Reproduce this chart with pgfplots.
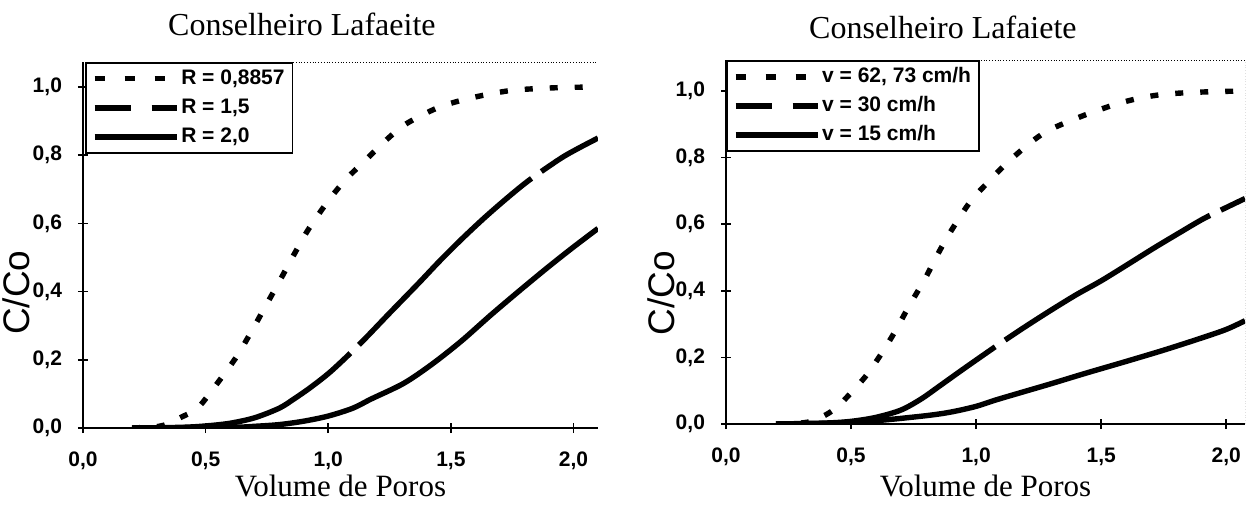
\documentclass[border=0pt]{standalone}
\usepackage{fontspec}
\setmainfont{Liberation Serif}
\setsansfont{Liberation Sans}
\usepackage{pgfplots}
\pgfplotsset{compat=1.18}

\pgfplotsset{
  base/.style={
    scale only axis,
    xmin=0, ymin=0,
    axis lines=left,
    axis line style={-, line width=1pt, black},
    xtick={0,0.5,1,1.5,2},
    ytick={0,0.2,0.4,0.6,0.8,1},
    tick align=center, major tick length=5pt,
    tick style={black, line width=0.8pt},
    /pgf/number format/.cd, use comma, fixed, fixed zerofill, precision=1, assume math mode=true,
    /pgfplots/.cd,
    ticklabel style={font=\sffamily\bfseries\fontsize{10.5}{12}\selectfont},
    xticklabel style={yshift=-6pt},
    yticklabel style={xshift=-4.5pt},
    title style={anchor=base, font=\fontsize{16}{19}\selectfont},
    xlabel style={anchor=base, font=\fontsize{15.5}{18}\selectfont},
    ylabel style={anchor=center, font=\sffamily\fontsize{18.5}{22}\selectfont},
    legend style={anchor=north west, draw=black, line width=0.8pt,
      font=\sffamily\bfseries\fontsize{10.5}{12}\selectfont,
      inner xsep=3pt, inner ysep=2pt, row sep=2.5pt,
      nodes={inner sep=1pt, text height=8pt, text depth=2pt}},
    legend cell align=left,
    legend image code/.code={\draw[#1] (0pt,0pt) -- (41pt,0pt);},
  },
  sa/.style={black, line width=2.7pt, dash pattern=on 4pt off 8.5pt},
  sb/.style={black, line width=2.7pt, dash pattern=on 120pt off 6pt},
  sc/.style={black, line width=2.7pt},
  la/.style={black, line width=2.7pt, dash pattern=on 5pt off 10pt},
  lb/.style={black, line width=2.7pt, dash pattern=on 18pt off 10.5pt},
}

\begin{document}
\begin{tikzpicture}
\path[use as bounding box] (0,0) rectangle (630pt,252.5pt);

% ---------------- left
\begin{axis}[base,
  at={(41.5pt,38.5pt)}, anchor=south west,
  width=257.5pt, height=183pt,
  xmax=2.1, ymax=1.073,
  title={Conselheiro Lafaeite},
  title style={at={(axis description cs:0.425,1.04)}},
  xlabel={Volume de Poros},
  xlabel style={at={(axis description cs:0.5,-0.186)}},
  ylabel={C/Co},
  ylabel style={at={(axis description cs:-0.13,0.37)}},
  legend style={at={(axis description cs:0.004,1)}},
]
\addlegendimage{la}
\addlegendimage{lb}
\addlegendimage{sc}
\addplot[sa, smooth, forget plot] coordinates {
(0.2,0)(0.3,0.004)(0.35,0.013)(0.39,0.028)(0.44,0.046)(0.48,0.068)(0.558,0.141)(0.627,0.21)(0.686,0.282)(0.745,0.358)(0.804,0.434)(0.860,0.508)(0.918,0.581)(0.999,0.665)(1.073,0.73)(1.139,0.776)(1.224,0.836)(1.294,0.88)(1.35,0.905)(1.45,0.94)(1.55,0.962)(1.65,0.978)(1.75,0.99)(1.85,0.995)(1.95,0.998)(2.1,1.0)};
\addplot[sb, smooth, forget plot] coordinates {
(0.2,0)(0.4,0.002)(0.5,0.006)(0.6,0.014)(0.7,0.03)(0.8,0.058)(0.86,0.085)(0.93,0.12)(1.014,0.168)(1.131,0.248)(1.249,0.336)(1.368,0.424)(1.455,0.49)(1.543,0.553)(1.638,0.617)(1.734,0.677)(1.822,0.728)(1.947,0.79)(2.02,0.82)(2.1,0.85)};
\addplot[sc, smooth, forget plot] coordinates {
(0.2,0)(0.6,0.002)(0.7,0.005)(0.8,0.01)(0.9,0.02)(1.0,0.035)(1.1,0.058)(1.175,0.085)(1.308,0.131)(1.425,0.188)(1.543,0.255)(1.661,0.330)(1.779,0.402)(1.897,0.472)(1.999,0.53)(2.1,0.585)};
\draw[densely dotted, line width=0.4pt] (rel axis cs:0,1) -- (rel axis cs:1,1) -- (rel axis cs:1,0);
\legend{{R = 0,8857}, {R = 1,5}, {R = 2,0}}
\end{axis}

% ---------------- right
\begin{axis}[base,
  at={(363pt,40.5pt)}, anchor=south west,
  width=259.5pt, height=182pt,
  xmax=2.075, ymax=1.093,
  title={Conselheiro Lafaiete},
  title style={at={(axis description cs:0.418,1.027)}},
  xlabel={Volume de Poros},
  xlabel style={at={(axis description cs:0.5,-0.198)}},
  ylabel={C/Co},
  ylabel style={at={(axis description cs:-0.124,0.36)}},
  legend style={at={(axis description cs:0,1)}},
]
\addlegendimage{la}
\addlegendimage{lb}
\addlegendimage{sc}
\addplot[sa, smooth, forget plot] coordinates {
(0.2,0)(0.3,0.003)(0.35,0.01)(0.4,0.028)(0.44,0.048)(0.479,0.077)(0.557,0.142)(0.622,0.212)(0.679,0.282)(0.736,0.36)(0.793,0.432)(0.843,0.505)(0.900,0.58)(0.979,0.67)(1.057,0.733)(1.115,0.778)(1.214,0.843)(1.293,0.883)(1.425,0.925)(1.55,0.958)(1.65,0.978)(1.75,0.99)(1.85,0.995)(1.95,0.998)(2.075,1.0)};
\addplot[sb, smooth, forget plot] coordinates {
(0.2,0)(0.4,0.003)(0.5,0.008)(0.6,0.02)(0.7,0.042)(0.78,0.075)(0.85,0.112)(0.93,0.155)(1.0,0.192)(1.1,0.244)(1.2,0.294)(1.3,0.342)(1.4,0.388)(1.5,0.43)(1.608,0.48)(1.708,0.527)(1.808,0.572)(1.908,0.616)(2.0,0.65)(2.075,0.677)};
\addplot[sc, smooth, forget plot] coordinates {
(0.2,0)(0.4,0.002)(0.6,0.01)(0.8,0.025)(0.9,0.036)(1.0,0.053)(1.078,0.072)(1.2,0.099)(1.3,0.121)(1.436,0.152)(1.6,0.188)(1.751,0.222)(1.9,0.258)(2.0,0.284)(2.075,0.31)};
\draw[densely dotted, line width=0.4pt] (rel axis cs:0,1) -- (rel axis cs:1,1) -- (rel axis cs:1,0);
\legend{{v = 62, 73 cm/h}, {v = 30 cm/h}, {v = 15 cm/h}}
\end{axis}
\end{tikzpicture}
\end{document}
